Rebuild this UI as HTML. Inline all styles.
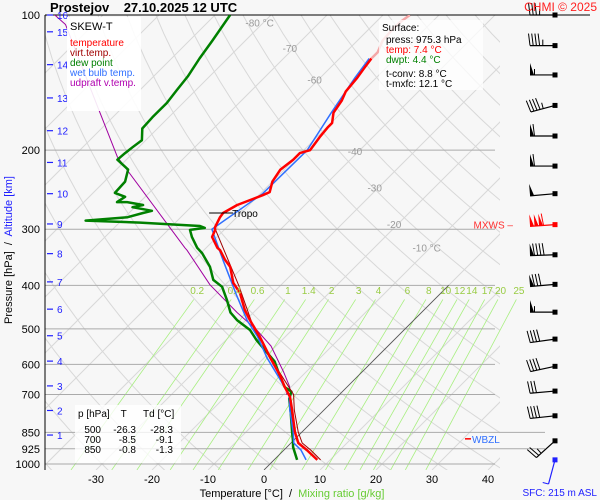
<!DOCTYPE html>
<html><head><meta charset="utf-8"><style>
html,body{margin:0;padding:0;background:#f7f7f7;}
svg{display:block;font-family:"Liberation Sans",sans-serif;}
text{white-space:pre;}
</style></head><body>
<svg id="chart" width="600" height="500" viewBox="0 0 600 500" xmlns="http://www.w3.org/2000/svg">
<rect x="0" y="0" width="600" height="500" fill="#f7f7f7"/>
<defs>
<clipPath id="plotclip"><rect x="45" y="15" width="455" height="455"/></clipPath>
<clipPath id="mixclip"><rect x="45" y="15" width="480" height="455"/></clipPath>
</defs>
<g id="grid" clip-path="url(#plotclip)"></g>
<g id="mix" clip-path="url(#mixclip)"></g>
<g id="hgrid"></g>
<g id="series" clip-path="url(#plotclip)"></g>
<g id="labels"></g>
<g id="barbs"></g>

<text x="50" y="12" font-size="13" font-weight="bold" fill="#000">Prostejov    27.10.2025 12 UTC</text>
<text x="597" y="11" font-size="12" fill="#ff2020" text-anchor="end">CHMI © 2025</text>

<g>
<rect x="67" y="17" width="74" height="94" fill="#ffffff" opacity="0.9"/>
<text x="70" y="30" font-size="11" fill="#000">SKEW-T</text>
<text x="70" y="46" font-size="10" fill="#ff0000">temperature</text>
<text x="70" y="56" font-size="10" fill="#a00000">virt.temp.</text>
<text x="70" y="66" font-size="10" fill="#008000">dew point</text>
<text x="70" y="76" font-size="10" fill="#3070ff">wet bulb temp.</text>
<text x="70" y="86" font-size="10" fill="#b000b0">udpraft v.temp.</text>
</g>

<g>
<rect x="379" y="20" width="104" height="70" fill="#ffffff" opacity="0.75"/>
<text x="382" y="31" font-size="10" fill="#000">Surface:</text>
<text x="386" y="43" font-size="10" fill="#000">press: 975.3 hPa</text>
<text x="386" y="53" font-size="10" fill="#ff0000">temp: 7.4 °C</text>
<text x="386" y="63" font-size="10" fill="#008000">dwpt: 4.4 °C</text>
<text x="386" y="77" font-size="10" fill="#000">t-conv: 8.8 °C</text>
<text x="386" y="87" font-size="10" fill="#000">t-mxfc: 12.1 °C</text>
</g>

<g>
<rect x="75" y="405" width="106" height="58" fill="#ffffff" opacity="0.8"/>
<text x="78" y="417" font-size="10" fill="#000">p [hPa]    T      Td [°C]</text>
<text x="101" y="433" font-size="10" fill="#000" text-anchor="end">500</text>
<text x="136" y="433" font-size="10" fill="#000" text-anchor="end">-26.3</text>
<text x="173" y="433" font-size="10" fill="#000" text-anchor="end">-28.3</text>
<text x="101" y="443" font-size="10" fill="#000" text-anchor="end">700</text>
<text x="136" y="443" font-size="10" fill="#000" text-anchor="end">-8.5</text>
<text x="173" y="443" font-size="10" fill="#000" text-anchor="end">-9.1</text>
<text x="101" y="453" font-size="10" fill="#000" text-anchor="end">850</text>
<text x="136" y="453" font-size="10" fill="#000" text-anchor="end">-0.8</text>
<text x="173" y="453" font-size="10" fill="#000" text-anchor="end">-1.3</text>
</g>

<text transform="translate(12,250) rotate(-90)" font-size="11" text-anchor="middle"><tspan fill="#000">Pressure [hPa]  /  </tspan><tspan fill="#2020ff">Altitude [km]</tspan></text>
<text x="292" y="497" font-size="11" text-anchor="middle"><tspan fill="#000">Temperature [°C]  /  </tspan><tspan fill="#66cc33">Mixing ratio [g/kg]</tspan></text>
<text x="597" y="496" font-size="10" fill="#2020ff" text-anchor="end">SFC: 215 m ASL</text>
</svg>
<script>
var pLevels = [100,200,300,400,500,600,700,850,925,1000];
var tTicks = [-30,-20,-10,0,10,20,30,40];
var kmTicks = [1,2,3,4,5,6,7,8,9,10,11,12,13,14,15,16];
var kmPress = [862,760,670,590,518,452,393,340,292,250,213,181,153,129,109,100];
var mixRatios = [0.2,0.4,0.6,1,1.4,2,3,4,6,8,10,12,14,17,20,25];
var isoLabels = [-80,-70,-60,-40,-30,-20,-10];
var isoLabelP = [106,121,142,205,247,298,336];

var tempP = [979,931,898,848,758,709,674,634,578,521,478,454,416,395,364,351,334,330,312,301,297,282,276,265,252,248,235,221,210,203,200,187,178,174,165,155,148,138,131,125];
var tempT = [7.7,4.1,1.3,-1.3,-5.7,-8.4,-11.1,-14.1,-19.1,-24.5,-29.3,-32.0,-35.9,-38.9,-42.3,-44.5,-47.1,-48.0,-50.9,-51.6,-52.1,-53.0,-53.2,-52.1,-49.3,-48.6,-50.0,-50.7,-50.2,-50.2,-48.9,-49.5,-49.8,-49.8,-51.4,-52.1,-53.0,-53.4,-53.9,-54.3];
var tempUpperP = [125,121,114,109,104,100];
var tempUpperT = [-54.3,-54.3,-55.5,-55.7,-55.7,-55.2];
var virtP = [979,931,898,848,758,700,600,500,400,300];
var virtT = [8.3,4.8,2.0,-0.7,-5.3,-8.2,-17.0,-27.0,-37.5,-51.7];
var wetP = [979,930,898,848,760,700,640,580,520,480,420,350,300,250,200,165,138,125];
var wetT = [5.7,3.0,0.5,-1.6,-6.0,-9.0,-14.0,-19.5,-25.0,-29.6,-36.2,-45.0,-52.3,-49.6,-49.4,-51.8,-53.8,-54.7];
var dewP = [979,917,884,848,768,716,690,674,642,591,565,530,503,478,460,431,403,389,364,339,330,312,301,298,295,290,287,282,276,273,268,265,261,261,254,249,235,221,210,203,197,190,179,169,157,147,137,125,114,100];
var dewT = [4.1,1.1,-0.2,-1.8,-5.5,-8.2,-9.1,-11.1,-13.6,-17.5,-20.4,-24.5,-27.5,-31.6,-34.1,-37.0,-40.2,-43.0,-45.9,-49.8,-51.6,-54.5,-56.1,-53.8,-55.0,-66.3,-76.4,-69.5,-67.5,-66.3,-70.4,-68.9,-72.3,-74.1,-73.6,-76.1,-76.3,-77.9,-81.6,-81.4,-81.1,-80.7,-82.7,-82.9,-82.9,-83.4,-83.9,-85.0,-85.9,-87.3];
var parcelP = [700,674,625,546,503,460,399,334,330,207,160,105,100];
var parcelT = [-9.5,-10.2,-13.9,-20.9,-26.3,-32.9,-42.7,-53.0,-53.8,-82.1,-94.6,-115.0,-118.6];
var windP = [100,117,136,159,186,217,250,293,342,398,459,527,606,688,781,888,979];
var windSpd = [35,45,55,45,60,60,50,160,90,80,55,40,40,30,40,25,5];
var windDir = [270,270,270,255,270,270,265,266,268,265,270,262,258,265,264,228,195];

var NS = "http://www.w3.org/2000/svg";
function Y(p){ return 15 + 195*Math.log(p/100); }
function Yinv(y){ return 100*Math.exp((y-15)/195); }
function X(t,p){ return 264 + 5.6*t + (470 - Y(p)); }
function mk(tag, attrs, parent){
  var e = document.createElementNS(NS, tag);
  for (var k in attrs) e.setAttribute(k, attrs[k]);
  parent.appendChild(e); return e;
}
var gGrid = document.getElementById('grid');
var gMix = document.getElementById('mix');
var gH = document.getElementById('hgrid');
var gS = document.getElementById('series');
var gL = document.getElementById('labels');
var gB = document.getElementById('barbs');

for (var t=-170; t<=40; t+=10){
  var l = mk('line',{x1:X(t,1031),y1:Y(1031),x2:X(t,95),y2:Y(95),stroke:'#d8d8d8','stroke-width':1},gGrid);
  
  
}
var z = mk('line',{x1:X(0,1031),y1:Y(1031),x2:X(0,400),y2:Y(400),stroke:'#555','stroke-width':0.8},gS);


for (var th=-60; th<=220; th+=10){
  var pts=[];
  for (var p=1040; p>=90; p-=15){
    var T=(th+273.15)*Math.pow(p/1000,0.2857)-273.15;
    pts.push(X(T,p).toFixed(1)+','+Y(p).toFixed(1));
  }
  var a = mk('polyline',{points:pts.join(' '),fill:'none',stroke:'#d8d8d8','stroke-width':1},gGrid);
  
  
}
function tdFromW(w,p){ var e=w*p/(622+w); var L=Math.log(e/6.112); return 243.5*L/(17.67-L); }
for (var i=0;i<mixRatios.length;i++){
  var w=mixRatios[i];
  var m = mk('line',{x1:X(tdFromW(w,1031),1031),y1:Y(1031),x2:X(tdFromW(w,430),430),y2:Y(430),stroke:'#a8ef80','stroke-width':0.8},gMix);
  
  
  var ml = mk('text',{x:X(tdFromW(w,420),420),y:Y(420)-1,'font-size':10,fill:'#99cc44','text-anchor':'middle'},gL);
  ml.textContent = String(w);
  
  
}
for (var i=0;i<isoLabels.length;i++){
  var v=isoLabels[i], pp=isoLabelP[i];
  var tl = mk('text',{x:X(v,pp),y:Y(pp),'font-size':10,fill:'#999','text-anchor':'middle'},gL);
  tl.textContent = (v===-80||v===-10) ? v+' °C' : String(v);
  
  
}
for (var i=0;i<pLevels.length;i++){
  var p=pLevels[i];
  var xe = (p===850||p===925)?545:(p===100?590:495);
  var hl = mk('line',{x1:45,y1:Y(p),x2:xe,y2:Y(p),stroke:p===100?'#000':'#aaa','stroke-width':1},gH);
  
  
  var pl = mk('text',{x:40,y:Y(p)+4,'font-size':11,fill:'#000','text-anchor':'end'},gL);
  pl.textContent = String(p);
  
  
}
var ax = mk('line',{x1:45,y1:15,x2:45,y2:470,stroke:'#000','stroke-width':1},gH);


for (var i=0;i<tTicks.length;i++){
  var tx = mk('text',{x:X(tTicks[i],Yinv(470)),y:483,'font-size':11,fill:'#000','text-anchor':'middle'},gL);
  tx.textContent = String(tTicks[i]);
  
  
}
for (var i=0;i<kmTicks.length;i++){
  var yy = Y(kmPress[i]);
  var kt = mk('line',{x1:47,y1:yy,x2:53,y2:yy,stroke:'#2020ff','stroke-width':1.2},gL);
  
  
  var kl = mk('text',{x:57,y:yy+4,'font-size':10,fill:'#2020ff'},gL);
  kl.textContent = String(kmTicks[i]);
  
  
}
function line(P,T,color,w){
  var pts=[];
  for (var i=0;i<P.length;i++) pts.push(X(T[i],P[i]).toFixed(1)+','+Y(P[i]).toFixed(1));
  return mk('polyline',{points:pts.join(' '),fill:'none',stroke:color,'stroke-width':w,'stroke-linejoin':'round'},gS);
}
var s1 = line(parcelP,parcelT,'#a000a0',1);


var s2 = line(dewP,dewT,'#008000',2.5);


var s3 = line(wetP,wetT,'#3070ff',1.5);


var s4 = line(virtP,virtT,'#a00000',1);


var s5 = line(tempP,tempT,'#ff0000',2.5);


var s6 = line(tempUpperP,tempUpperT,'#f4a8a8',2.5);



var tpP = 276, tpx = X(-53.2,tpP), tpy = Y(tpP);
var tp = mk('line',{x1:tpx-14,y1:tpy,x2:tpx+10,y2:tpy,stroke:'#000','stroke-width':1},gL);


var tpt = mk('text',{x:tpx+9,y:tpy+4,'font-size':10,fill:'#000'},gL);
tpt.textContent='Tropo';



var mx = mk('text',{x:513,y:Y(293)+4,'font-size':10,fill:'#ff3030','text-anchor':'end'},gL);
mx.textContent='MXWS –';


var wbm = mk('line',{x1:465,y1:Y(888)-2,x2:471,y2:Y(888)-2,stroke:'#ff0000','stroke-width':1.5},gL);


var wbt = mk('text',{x:472,y:Y(888)+2,'font-size':10,fill:'#3070ff'},gL);
wbt.textContent='WBZL';



for (var i=0;i<windP.length;i++){
  var y0 = Y(windP[i]), x0 = 555;
  var d = windDir[i]*Math.PI/180;
  var sx = Math.sin(d), sy = -Math.cos(d);
  var L = 25;
  var col = windSpd[i]>=150 ? '#ff0000' : (i===windP.length-1 ? '#2020ff' : '#000');
  var g = mk('g',{},gB);
  
  
  mk('rect',{x:x0-2.5,y:y0-2.5,width:5,height:5,fill:col},g);
  var ex = x0+sx*L, ey = y0+sy*L;
  mk('line',{x1:x0,y1:y0,x2:ex,y2:ey,stroke:col,'stroke-width':1.2},g);
  var px = -sy, py = sx;
  if (py>0){ px=-px; py=-py; }
  var spd = windSpd[i], pos = 0;
  var pen = Math.floor(spd/50); spd -= pen*50;
  var full = Math.floor(spd/10); spd -= full*10;
  var half = spd>=5 ? 1 : 0;
  for (var k=0;k<pen;k++){
    var bx = ex - sx*pos, by = ey - sy*pos;
    mk('polygon',{points:bx+','+by+' '+(bx+px*12)+','+(by+py*12)+' '+(bx-sx*4)+','+(by-sy*4),fill:col},g);
    pos += 4.5;
  }
  for (var k=0;k<full;k++){
    var bx = ex - sx*pos, by = ey - sy*pos;
    mk('line',{x1:bx,y1:by,x2:bx+px*12+sx*1.5,y2:by+py*12+sy*1.5,stroke:col,'stroke-width':1},g);
    pos += 3.2;
  }
  if (half){
    var bx = ex - sx*pos, by = ey - sy*pos;
    mk('line',{x1:bx,y1:by,x2:bx+px*6,y2:by+py*6,stroke:col,'stroke-width':1},g);
  }
}
</script>
</body></html>
